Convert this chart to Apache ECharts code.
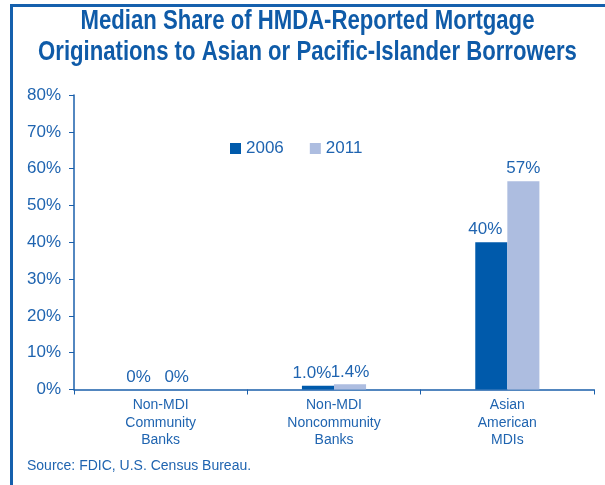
<!DOCTYPE html>
<html>
<head>
<meta charset="utf-8">
<script src="https://cdn.jsdelivr.net/npm/echarts@6/dist/echarts.min.js"></script>
<style>
  html, body { margin: 0; padding: 0; background: #fff; }
  #chart { width: 605px; height: 485px; }
</style>
</head>
<body>
<div id="chart"></div>
<script>
// categories and values
var titleLines = ['Median Share of HMDA-Reported Mortgage', 'Originations to Asian or Pacific-Islander Borrowers'];
var categories = ['Non-MDI\nCommunity\nBanks', 'Non-MDI\nNoncommunity\nBanks', 'Asian\nAmerican\nMDIs'];
var values2006 = [0, 1.0, 40];
var values2011 = [0, 1.4, 56.6];
var labels2006 = ['0%', '1.0%', '40%'];
var labels2011 = ['0%', '1.4%', '57%'];
var yTicks = [0, 10, 20, 30, 40, 50, 60, 70, 80];

var blue = '#1a5fab';
var textBlue = '#1f64b0';
var font = '"Liberation Sans", Arial, sans-serif';

var myChart = echarts.init(document.getElementById('chart'));

function labelFor(list) {
    return function (p) { return list[p.dataIndex]; };
}

// title drawn as squeezed bold text to look like a condensed face
var titleGraphics = titleLines.map(function (line, i) {
    return {
        type: 'text',
        x: 307.5,
        y: 22 + i * 31,
        scaleX: 0.82,
        style: {
            text: line,
            fill: '#0f5ba8',
            font: 'bold 27px ' + font,
            textAlign: 'center',
            textVerticalAlign: 'middle'
        }
    };
});

var option = {
    animation: false,
    textStyle: { fontFamily: font },
    legend: {
        left: 225,
        top: 135,
        itemWidth: 11,
        itemHeight: 11,
        itemGap: 26,
        icon: 'rect',
        textStyle: { color: textBlue, fontSize: 17, fontFamily: font },
        data: ['2006', '2011']
    },
    grid: { left: 74, right: 11, top: 95, bottom: 95.5 },
    xAxis: {
        type: 'category',
        data: categories,
        axisLine: { lineStyle: { color: blue, width: 1.5 } },
        axisTick: { show: true, length: 5, lineStyle: { color: blue } },
        axisLabel: {
            color: textBlue,
            fontSize: 14,
            lineHeight: 17.5,
            margin: 7,
            fontFamily: font
        }
    },
    yAxis: {
        type: 'value',
        min: yTicks[0],
        max: yTicks[yTicks.length - 1],
        interval: 10,
        splitLine: { show: false },
        axisLine: { show: true, lineStyle: { color: blue, width: 1.5 } },
        axisTick: { show: true, length: 5, lineStyle: { color: blue } },
        axisLabel: {
            formatter: '{value}%',
            color: textBlue,
            fontSize: 17,
            margin: 13,
            fontFamily: font
        }
    },
    series: [
        {
            name: '2006',
            type: 'bar',
            data: values2006,
            barGap: '0%',
            barCategoryGap: '63%',
            itemStyle: { color: '#005aab' },
            label: {
                show: true,
                position: 'top',
                distance: 4,
                offset: [-6, 0],
                formatter: labelFor(labels2006),
                color: textBlue,
                fontSize: 17,
                fontFamily: font
            }
        },
        {
            name: '2011',
            type: 'bar',
            data: values2011,
            itemStyle: { color: '#adbde0' },
            label: {
                show: true,
                position: 'top',
                distance: 4,
                formatter: labelFor(labels2011),
                color: textBlue,
                fontSize: 17,
                fontFamily: font
            }
        }
    ],
    graphic: titleGraphics.concat([
        // frame: top and left blue rules
        { type: 'rect', shape: { x: 10, y: 4, width: 595, height: 3 }, style: { fill: '#1560ad' } },
        { type: 'rect', shape: { x: 10, y: 4, width: 3, height: 481 }, style: { fill: '#1560ad' } },
        {
            type: 'text',
            left: 27,
            top: 459,
            style: {
                text: 'Source: FDIC, U.S. Census Bureau.',
                fill: textBlue,
                font: '14px ' + font
            }
        }
    ])
};

myChart.setOption(option, true);
</script>
</body>
</html>
